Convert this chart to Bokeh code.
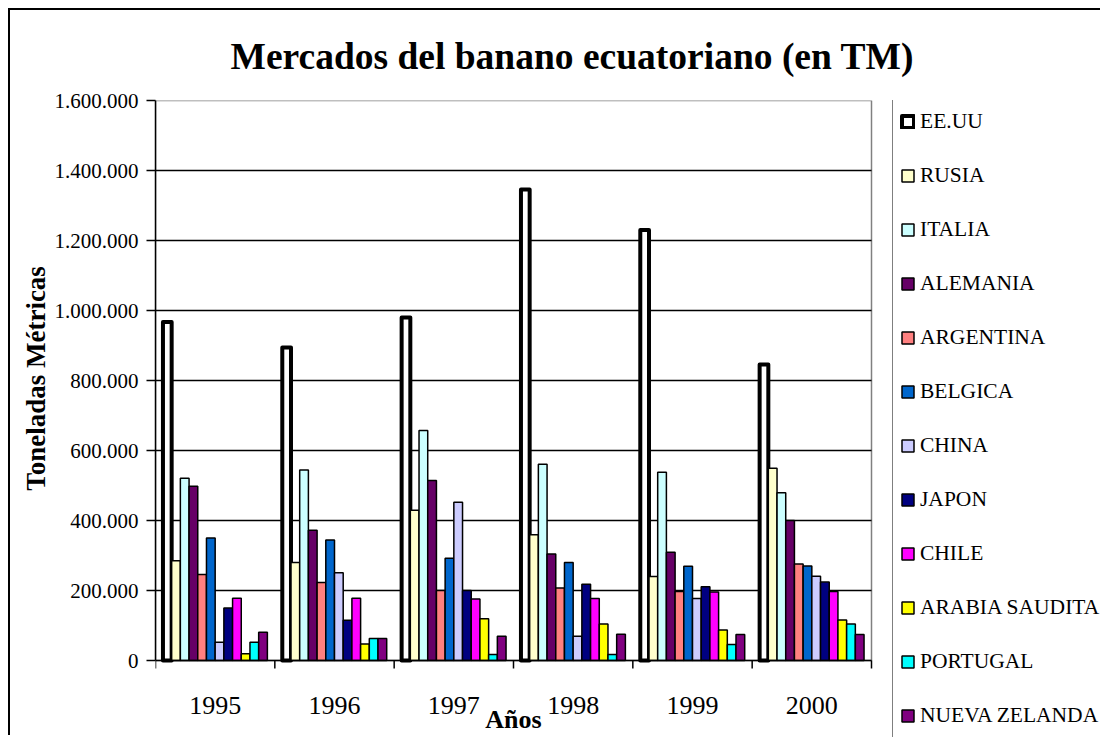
import math
from bokeh.plotting import figure
from bokeh.models import Range1d, FixedTicker, Legend, LegendItem, ColumnDataSource
from bokeh.transform import dodge
from bokeh.core.properties import value
from bokeh.embed import file_html
from bokeh.resources import INLINE

years = ["1995", "1996", "1997", "1998", "1999", "2000"]
countries = ["EE.UU", "RUSIA", "ITALIA", "ALEMANIA", "ARGENTINA", "BELGICA", "CHINA",
             "JAPON", "CHILE", "ARABIA SAUDITA", "PORTUGAL", "NUEVA ZELANDA"]

ee_uu = [967000, 894000, 980000, 1346000, 1230000, 846000]
rusia = [285000, 280000, 429000, 359000, 240000, 549000]
italia = [521000, 544000, 657000, 561000, 538000, 479000]
alemania = [498000, 372000, 514000, 304000, 309000, 400000]
argentina = [246000, 223000, 200000, 207000, 197000, 276000]
belgica = [350000, 344000, 292000, 280000, 269000, 270000]
china = [52000, 251000, 452000, 69000, 177000, 241000]
japon = [150000, 115000, 200000, 218000, 211000, 224000]
chile = [178000, 178000, 176000, 177000, 196000, 197000]
arabia_saudita = [19000, 47000, 119000, 104000, 87000, 116000]
portugal = [52000, 63000, 17000, 17000, 46000, 104000]
nueva_zelanda = [81000, 63000, 69000, 75000, 74000, 74000]

series = [ee_uu, rusia, italia, alemania, argentina, belgica, china, japon, chile,
          arabia_saudita, portugal, nueva_zelanda]
colors = ["#FFFFFF", "#FFFFCC", "#CCFFFF", "#660066", "#FF8080", "#0066CC", "#CCCCFF",
          "#000080", "#FF00FF", "#FFFF00", "#00FFFF", "#800080"]

y_max = 1600000
y_ticks = list(range(0, y_max + 1, 200000))

FONT = "Liberation Serif"

# ---- layout (pixels) ----
W, H = 1092, 727
LEFT, TOP = 145, 90
PLOT_W, PLOT_H = 716, 560          # the chart's plot area inside the wider frame
FRAME_W, FRAME_H = W - LEFT, H - TOP

n_cat = len(years)
x_end = n_cat * FRAME_W / PLOT_W
y_start = -y_max * (FRAME_H - PLOT_H) / PLOT_H

data = {"year": years, "xc": [i + 0.5 for i in range(n_cat)]}
for i, s in enumerate(series):
    data[f"s{i}"] = s
src = ColumnDataSource(data)

p = figure(x_range=Range1d(0, x_end), y_range=Range1d(y_start, y_max),
           width=W, height=H, output_backend="svg", toolbar_location=None,
           x_axis_location=None, min_border_left=LEFT, min_border_top=TOP,
           min_border_right=0, min_border_bottom=0)

p.styles = {"margin-left": "8px", "margin-top": "8px",
            "border-top": "2px solid black", "border-left": "2px solid black"}

p.title.text = "Mercados del banano ecuatoriano (en TM)"
p.title.text_font = FONT
p.title.text_font_size = "37.5px"
p.title.text_font_style = "bold"
p.title.text_color = "black"
p.title.align = "left"
p.title.offset = 75
p.title.standoff = 47

p.outline_line_color = None
p.xgrid.visible = False
p.ygrid.visible = False

# y axis
ya = p.yaxis[0]
ya.ticker = FixedTicker(ticks=y_ticks)
ya.bounds = (0, y_max)
ya.major_label_overrides = {t: f"{t:,}".replace(",", ".") for t in y_ticks}
ya.major_label_text_font = FONT
ya.major_label_text_font_size = "21px"
ya.major_label_text_color = "black"
ya.major_tick_out = 9
ya.major_tick_in = 0
ya.major_tick_line_width = 1.5
ya.major_tick_line_color = "black"
ya.minor_tick_line_color = None
ya.axis_line_color = "black"
ya.axis_line_width = 1.5
ya.major_label_standoff = 8
# leading no-break spaces lift the title to the middle of the plot area
ya.axis_label = "\u00a0" * 12 + "Toneladas Métricas"
ya.axis_label_text_font = FONT
ya.axis_label_text_font_size = "27px"
ya.axis_label_text_font_style = "bold"
ya.axis_label_text_color = "black"
ya.axis_label_standoff = 1

# plot area: grey border and black gridlines
p.quad(left=0, right=n_cat, bottom=0, top=y_max, fill_color=None,
       line_color="#808080", line_width=1.5)
grid_y = y_ticks[1:-1]
p.segment(x0=[0] * len(grid_y), x1=[n_cat] * len(grid_y), y0=grid_y, y1=grid_y,
          line_color="black", line_width=1.3)

n = len(series)
group_frac = 0.875
bw = group_frac / n
items = []
for i, (name, col) in enumerate(zip(countries, colors)):
    off = (i - (n - 1) / 2) * bw
    if i == 0:
        r = p.vbar(x=dodge("xc", off), top=f"s{i}", width=bw, source=src,
                   fill_color=col, line_color="black", line_width=4, line_join="round")
    else:
        r = p.vbar(x=dodge("xc", off), top=f"s{i}", width=bw, source=src,
                   fill_color=col, line_color="black", line_width=1.5)
    items.append(LegendItem(label=name, renderers=[r]))

# category (x) axis: baseline, ticks between groups, year labels, title
p.segment(x0=[0], x1=[n_cat], y0=[0], y1=[0], line_color="black", line_width=1.5)
p.ray(x=list(range(n_cat + 1)), y=0, length=8, length_units="screen",
      angle=-math.pi / 2, line_color="black", line_width=1.5)
p.text(x="xc", y=0, text="year", source=src, y_offset=45,
       text_font=value(FONT), text_font_size="26px", text_color="black",
       text_align="center", text_baseline="middle")
p.text(x=[n_cat / 2], y=[0], text=["Años"], y_offset=59,
       text_font=value(FONT), text_font_size="26px", text_font_style="bold",
       text_color="black", text_align="center", text_baseline="middle")

legend = Legend(items=items, location=(PLOT_W + 21, -1), margin=0, padding=7, spacing=25,
                glyph_width=15, glyph_height=15, label_height=29, label_width=200,
                label_standoff=5,
                label_text_font=FONT, label_text_font_size="21.5px", label_text_color="black",
                border_line_color="black", border_line_width=1.5,
                background_fill_color="white", background_fill_alpha=1.0)
p.add_layout(legend)

open("out.html", "w").write(file_html(p, INLINE))
